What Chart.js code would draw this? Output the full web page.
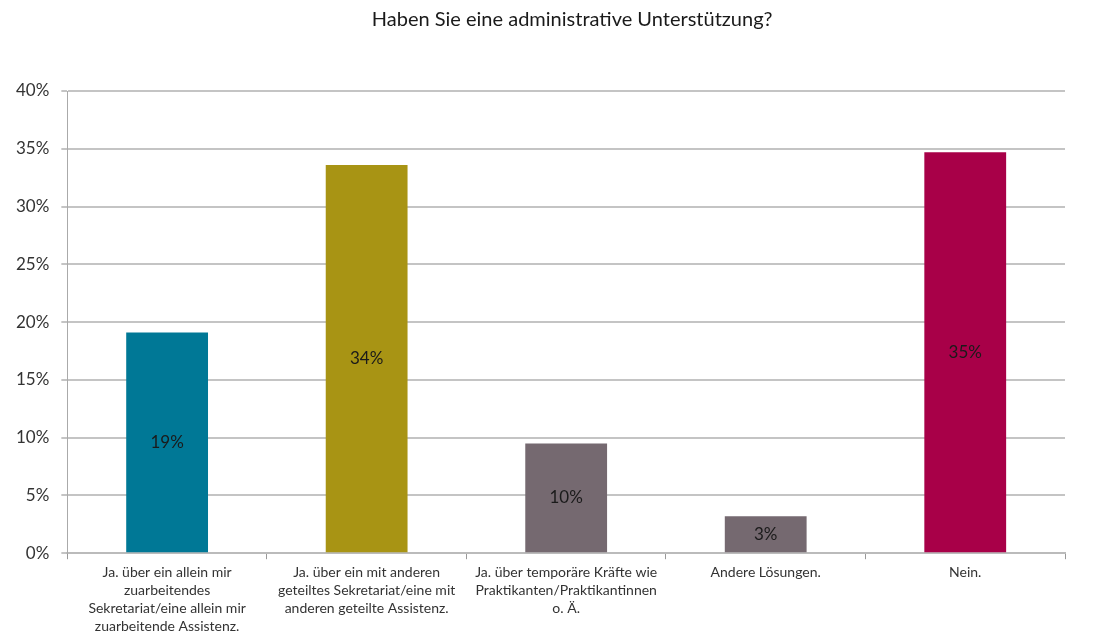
<!DOCTYPE html>
<html>
<head>
<meta charset="utf-8">
<script src="https://cdn.jsdelivr.net/npm/chart.js@4"></script>
<style>
  html, body { margin: 0; padding: 0; background: #fff; }
  .chart-container { width: 1103px; height: 640px; position: relative; }
</style>
</head>
<body>
<div class="chart-container">
  <canvas id="chart"></canvas>
</div>
<script>
const title = 'Haben Sie eine administrative Unterstützung?';
const categories = [
  ['Ja. über ein allein mir', 'zuarbeitendes', 'Sekretariat/eine allein mir', 'zuarbeitende Assistenz.'],
  ['Ja. über ein mit anderen', 'geteiltes Sekretariat/eine mit', 'anderen geteilte Assistenz.'],
  ['Ja. über temporäre Kräfte wie', 'Praktikanten/Praktikantinnen', 'o. Ä.'],
  'Andere Lösungen.',
  'Nein.'
];
const values = [19.1, 33.6, 9.5, 3.2, 34.7];
const valueLabels = ['19%', '34%', '10%', '3%', '35%'];
const yTicks = [0, 5, 10, 15, 20, 25, 30, 35, 40];
const barColors = ['#007896', '#a89414', '#756970', '#756970', '#a80048'];

const fontFamily = 'Lato, "Open Sans", sans-serif';

// title centred over the plot area, value labels in the middle of each bar
const extras = {
  id: 'extras',
  afterDatasetsDraw(chart) {
    const ctx = chart.ctx;
    const area = chart.chartArea;
    ctx.save();
    ctx.fillStyle = '#1a1a1a';
    ctx.font = '20px ' + fontFamily;
    ctx.textAlign = 'center';
    ctx.textBaseline = 'middle';
    ctx.fillText(title, (area.left + area.right) / 2 + 6, 20);

    ctx.font = '17px ' + fontFamily;
    const meta = chart.getDatasetMeta(0);
    meta.data.forEach((bar, i) => {
      ctx.fillText(valueLabels[i], bar.x, (bar.y + bar.base) / 2);
    });
    ctx.restore();
  }
};

new Chart(document.getElementById('chart'), {
  type: 'bar',
  data: {
    labels: categories,
    datasets: [{
      data: values,
      backgroundColor: barColors,
      barPercentage: 0.41,
      categoryPercentage: 1.0
    }]
  },
  options: {
    responsive: true,
    maintainAspectRatio: false,
    animation: false,
    layout: { padding: { top: 91, right: 38, left: 4, bottom: 0 } },
    plugins: {
      legend: { display: false },
      tooltip: { enabled: false }
    },
    scales: {
      x: {
        grid: {
          display: true,
          drawOnChartArea: false,
          offset: true,
          tickLength: 6,
          color: '#999'
        },
        border: { color: '#bbb', width: 2 },
        ticks: {
          color: '#333',
          font: { family: fontFamily, size: 14, lineHeight: 1.3 },
          maxRotation: 0,
          autoSkip: false,
          padding: 4
        }
      },
      y: {
        min: 0,
        max: 40,
        afterBuildTicks(axis) {
          axis.ticks = yTicks.map(v => ({ value: v }));
        },
        grid: {
          color: '#c4c4c4',
          lineWidth: 2,
          tickLength: 6
        },
        border: { color: '#aaa', width: 1 },
        ticks: {
          color: '#333',
          font: { family: fontFamily, size: 17 },
          padding: 12,
          callback: v => v + '%'
        }
      }
    }
  },
  plugins: [extras]
});
</script>
</body>
</html>
